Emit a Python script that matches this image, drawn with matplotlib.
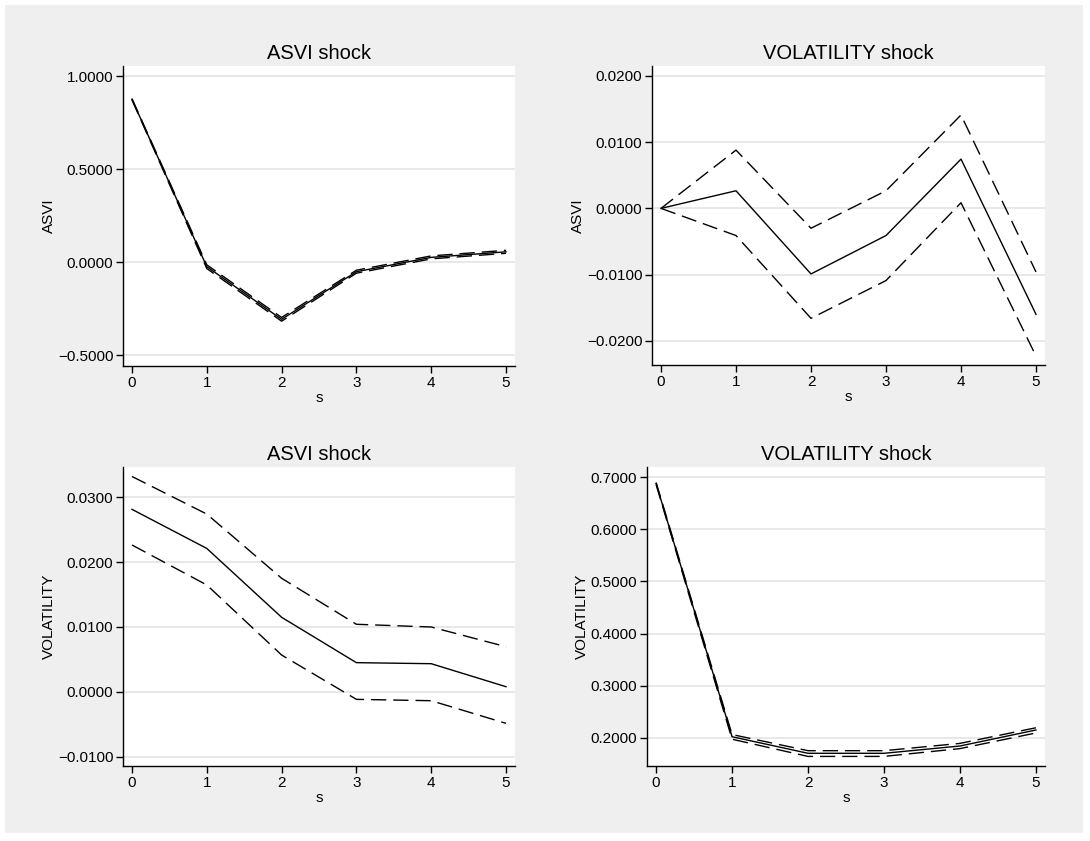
import matplotlib.pyplot as plt
from matplotlib.patches import Rectangle

s = [0, 1, 2, 3, 4, 5]

# ASVI response to ASVI shock
asvi_asvi = [0.875, -0.025, -0.308, -0.052, 0.025, 0.055]
asvi_asvi_hi = [0.878, -0.015, -0.298, -0.044, 0.033, 0.063]
asvi_asvi_lo = [0.872, -0.035, -0.318, -0.060, 0.017, 0.047]

# ASVI response to VOLATILITY shock
asvi_vol = [0.0, 0.00266, -0.0099, -0.0041, 0.00744, -0.0160]
asvi_vol_hi = [0.0, 0.0088, -0.0030, 0.00266, 0.0141, -0.0096]
asvi_vol_lo = [0.0, -0.0041, -0.0166, -0.0109, 0.00085, -0.0223]

# VOLATILITY response to ASVI shock
vol_asvi = [0.02813, 0.0221, 0.01148, 0.00448, 0.00432, 0.00077]
vol_asvi_hi = [0.0332, 0.0274, 0.0175, 0.0104, 0.00998, 0.00694]
vol_asvi_lo = [0.02263, 0.01646, 0.00566, -0.00118, -0.00139, -0.00488]

# VOLATILITY response to VOLATILITY shock
vol_vol = [0.688, 0.2018, 0.170, 0.170, 0.184, 0.2147]
vol_vol_hi = [0.690, 0.206, 0.175, 0.175, 0.189, 0.219]
vol_vol_lo = [0.686, 0.197, 0.164, 0.164, 0.179, 0.209]

plt.rcParams['font.family'] = ['Liberation Sans', 'DejaVu Sans']

W, H = 1090, 841
fig = plt.figure(figsize=(W / 100, H / 100), dpi=100, facecolor='white')
fig.patches.append(Rectangle((5 / W, 8 / H), 1078 / W, 828 / H, transform=fig.transFigure,
                             facecolor='#efefef', edgecolor='none', zorder=-10))


def box(l, r, t, b):
    return [l / W, 1 - b / H, (r - l) / W, (b - t) / H]


panels = [
    (box(123, 515, 66, 366), 'ASVI shock', 'ASVI', asvi_asvi, asvi_asvi_hi, asvi_asvi_lo,
     (-0.559, 1.054), [-0.5, 0.0, 0.5, 1.0]),
    (box(652, 1045, 66, 365), 'VOLATILITY shock', 'ASVI', asvi_vol, asvi_vol_hi, asvi_vol_lo,
     (-0.02365, 0.0215), [-0.02, -0.01, 0.0, 0.01, 0.02]),
    (box(123, 515, 467, 766), 'ASVI shock', 'VOLATILITY', vol_asvi, vol_asvi_hi, vol_asvi_lo,
     (-0.01146, 0.03466), [-0.01, 0.0, 0.01, 0.02, 0.03]),
    (box(647, 1045, 467, 766), 'VOLATILITY shock', 'VOLATILITY', vol_vol, vol_vol_hi, vol_vol_lo,
     (0.1456, 0.7198), [0.2, 0.3, 0.4, 0.5, 0.6, 0.7]),
]

for rect, title, ylab, mid, hi, lo, ylim, yticks in panels:
    ax = fig.add_axes(rect)
    ax.set_facecolor('white')
    for y in yticks:
        ax.axhline(y, color='#e4e4e4', lw=1.2, zorder=0)
    ax.plot(s, hi, color='black', lw=1.0, dashes=(11, 5))
    ax.plot(s, lo, color='black', lw=1.0, dashes=(11, 5))
    ax.plot(s, mid, color='black', lw=1.0)
    ax.set_xlim(-0.12, 5.12)
    ax.set_ylim(*ylim)
    ax.set_xticks(s)
    ax.set_yticks(yticks)
    ax.set_yticklabels([('%.4f' % v).replace('-', '\u2212') for v in yticks])
    ax.spines['top'].set_visible(False)
    ax.spines['right'].set_visible(False)
    ax.spines['left'].set_linewidth(1.0)
    ax.spines['bottom'].set_linewidth(1.0)
    ax.tick_params(labelsize=11, length=5, width=1.0, colors='black', pad=2)
    ax.set_title(title, fontsize=14.5, pad=5)
    ax.set_xlabel('s', fontsize=11, labelpad=1)
    ax.set_ylabel(ylab, fontsize=11, labelpad=1)

fig.savefig('out.png', dpi=100, facecolor=fig.get_facecolor())
